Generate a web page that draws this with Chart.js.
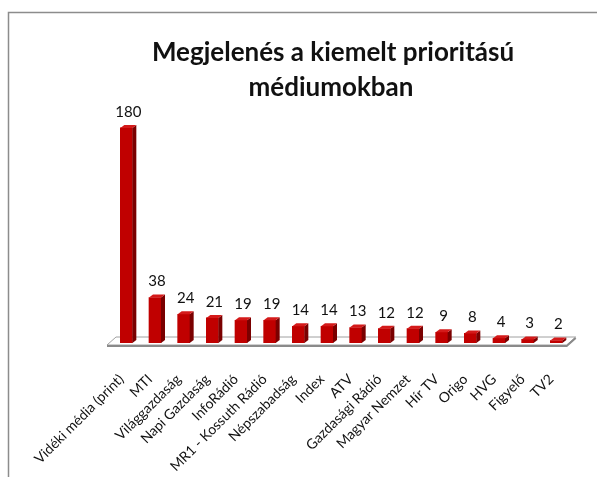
<!DOCTYPE html>
<html>
<head>
<meta charset="utf-8">
<script src="https://cdn.jsdelivr.net/npm/chart.js@4"></script>
<style>
  html, body { margin: 0; padding: 0; background: #fff; }
  #wrap { width: 597px; height: 477px; }
</style>
</head>
<body>
<div id="wrap"><canvas id="mediaChart" width="597" height="477"></canvas></div>
<script>
const titleLines = ['Megjelenés a kiemelt prioritású', 'médiumokban'];
const categories = [
  'Vidéki média (print)', 'MTI', 'Világgazdaság', 'Napi Gazdaság', 'InfoRádió',
  'MR1 - Kossuth Rádió', 'Népszabadság', 'Index', 'ATV', 'Gazdasági Rádió',
  'Magyar Nemzet', 'Hír TV', 'Origo', 'HVG', 'Figyelő', 'TV2'
];
const counts = [180, 38, 24, 21, 19, 19, 14, 14, 13, 12, 12, 9, 8, 4, 3, 2];

const DX = 4, DY = 3;

// frame, floor, 3d faces, value labels and title
const excel3d = {
  id: 'excel3d',
  beforeDraw(chart) {
    const ctx = chart.ctx;
    ctx.save();
    ctx.strokeStyle = '#8c8c8c';
    ctx.lineWidth = 1.5;
    ctx.beginPath();
    ctx.moveTo(8.5, 477);
    ctx.lineTo(8.5, 12.5);
    ctx.lineTo(597, 12.5);
    ctx.stroke();

    ctx.fillStyle = '#111';
    ctx.font = 'bold 26px Lato';
    ctx.textAlign = 'center';
    ctx.textBaseline = 'middle';
    ctx.fillText(titleLines[0], 333, 53);
    ctx.fillText(titleLines[1], 331, 88);
    ctx.restore();
  },
  beforeDatasetsDraw(chart) {
    const { ctx, chartArea: a } = chart;
    const b = a.bottom;
    ctx.save();
    ctx.beginPath();
    ctx.moveTo(a.left - 5, b + 2);
    ctx.lineTo(a.right - 4, b + 2);
    ctx.lineTo(a.right + 5, b - 6);
    ctx.lineTo(a.left + 4, b - 6);
    ctx.closePath();
    ctx.fillStyle = '#fff';
    ctx.fill();
    ctx.strokeStyle = '#a0a0a0';
    ctx.lineWidth = 1;
    ctx.stroke();
    ctx.strokeStyle = '#8a8a8a';
    ctx.lineWidth = 2;
    ctx.beginPath();
    ctx.moveTo(a.left - 5, b + 3);
    ctx.lineTo(a.right - 4, b + 3);
    ctx.lineTo(a.right + 5, b - 5);
    ctx.stroke();
    ctx.restore();
  },
  afterDatasetsDraw(chart) {
    const ctx = chart.ctx;
    const meta = chart.getDatasetMeta(0);
    ctx.save();
    meta.data.forEach((bar, i) => {
      const { x, y, base, width } = bar.getProps(['x', 'y', 'base', 'width'], true);
      const l = x - width / 2, r = x + width / 2;
      // side
      ctx.fillStyle = '#7a0000';
      ctx.beginPath();
      ctx.moveTo(r, y);
      ctx.lineTo(r + DX, y - DY);
      ctx.lineTo(r + DX, base - DY);
      ctx.lineTo(r, base);
      ctx.closePath();
      ctx.fill();
      // top
      ctx.fillStyle = '#d41a1a';
      ctx.beginPath();
      ctx.moveTo(l, y);
      ctx.lineTo(l + DX, y - DY);
      ctx.lineTo(r + DX, y - DY);
      ctx.lineTo(r, y);
      ctx.closePath();
      ctx.fill();

      ctx.fillStyle = '#111';
      ctx.font = '15px Lato';
      ctx.textAlign = 'center';
      ctx.textBaseline = 'middle';
      ctx.fillText(String(counts[i]), x + 2, y - DY - 13);
    });
    ctx.restore();
  }
};

new Chart(document.getElementById('mediaChart').getContext('2d'), {
  type: 'bar',
  data: {
    labels: categories,
    datasets: [{
      data: counts,
      backgroundColor: '#c00000',
      borderWidth: 0,
      barThickness: 12
    }]
  },
  options: {
    responsive: false,
    animation: false,
    layout: { padding: { top: 110, left: 112, right: 25, bottom: 0 } },
    plugins: {
      legend: { display: false },
      title: { display: false },
      tooltip: { enabled: false }
    },
    scales: {
      x: {
        grid: { display: false, drawTicks: false },
        border: { display: false },
        ticks: {
          color: '#111',
          font: { family: 'Lato', size: 14 },
          minRotation: 45,
          maxRotation: 45,
          autoSkip: false,
          padding: 28,
          labelOffset: -5
        },
        afterFit(scale) { scale.height = 134; }
      },
      y: {
        display: false,
        min: 0,
        max: 195
      }
    }
  },
  plugins: [excel3d]
});
</script>
</body>
</html>
